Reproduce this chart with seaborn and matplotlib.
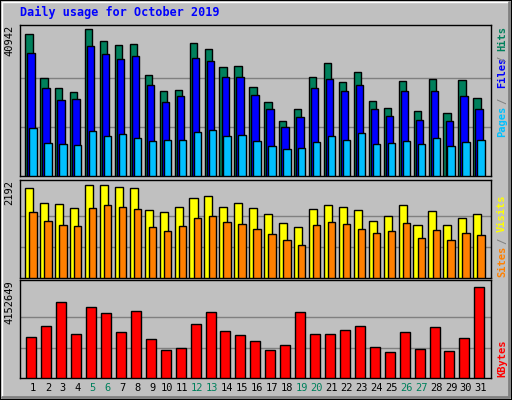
import matplotlib
matplotlib.use("Agg")
import matplotlib.pyplot as plt
import seaborn as sns
import numpy as np
import pandas as pd
from matplotlib.patches import Rectangle

days = list(range(1, 32))
hits = [39546, 27264, 24472, 23356, 40942, 37592, 36476, 36755, 28101, 23635, 23914, 37034, 35359, 30334, 30613, 24751,
        20564, 15260, 18610, 27543, 31451, 26147, 28939, 20843, 18889, 26426, 18052, 26985, 17493, 26705, 21681]
files = [34242, 24472, 21122, 21402, 36196, 33963, 32568, 33405, 25310, 20564, 22239, 32847, 32009, 27543, 27543, 22518,
         18610, 13585, 16377, 24472, 26985, 23635, 25310, 18610, 16656, 23635, 15539, 23635, 15260, 22239, 18610]
pages = [13306, 9119, 8840, 8561, 12469, 11073, 11631, 10515, 9677, 9956, 9956, 12190, 12748, 11073, 11352, 9677,
         8281, 7444, 7723, 9398, 11073, 9956, 11910, 8840, 9119, 9677, 8840, 10515, 8281, 9398, 9956]
visits = [2120, 1763, 1739, 1644, 2192, 2192, 2144, 2120, 1596, 1548, 1667, 1882, 1929, 1667, 1763, 1644,
          1501, 1286, 1191, 1620, 1715, 1667, 1596, 1334, 1453, 1715, 1239, 1572, 1239, 1405, 1501]
sites = [1548, 1334, 1239, 1215, 1644, 1715, 1667, 1620, 1191, 1120, 1215, 1405, 1453, 1310, 1262, 1167,
         1048, 905, 786, 1239, 1310, 1262, 1167, 1072, 1120, 1286, 953, 1143, 905, 1072, 1024]
kbytes = [1879220, 2379335, 3470495, 2015615, 3243170, 2970380, 2106545, 3061310, 1788290, 1288175, 1379105, 2470265,
          3015845, 2152010, 1970150, 1697360, 1288175, 1515500, 3015845, 2015615, 2015615, 2197475, 2379335, 1424570,
          1197245, 2106545, 1333640, 2333870, 1242710, 1833755, 4152649]
weekends = [5, 6, 12, 13, 19, 20, 26, 27]
title = "Daily usage for October 2019"

sns.set_style("white")
plt.rcParams['font.family'] = ['DejaVu Sans Mono']

W, H = 512, 400
fig = plt.figure(figsize=(W/100, H/100), dpi=100, facecolor="#C0C0C0")
fig.patches.append(Rectangle((0, 0), 1, 1, transform=fig.transFigure, fill=False, ec="black", lw=1.5))
fig.add_artist(plt.Line2D([2/W, 2/W, 1-3/W], [3/H, 1-2/H, 1-2/H], transform=fig.transFigure, color="white", lw=1))
fig.add_artist(plt.Line2D([2/W, 1-3/W, 1-3/W], [3/H, 3/H, 1-2/H], transform=fig.transFigure, color="#808080", lw=2))

def mkax(top, bottom):
    l, r = 20, 491
    return fig.add_axes([l/W, 1-bottom/H, (r-l)/W, (bottom-top)/H])

GREEN = "#00805C"
def draw(ax, series, ymax, label_val):
    ax.set_facecolor("#C0C0C0")
    for vals, color, off, w in series:
        df = pd.DataFrame({"x": np.array(days) + off, "y": vals})
        sns.barplot(data=df, x="x", y="y", native_scale=True, width=w, color=color,
                    edgecolor="black", linewidth=1, saturation=1, ax=ax, zorder=3)
    ax.set_xlim(0.13, 31.67)
    ax.set_ylim(0, ymax)
    for f in (1/3, 2/3):
        ax.axhline(label_val*f, color="#808080", lw=1, zorder=1)
    ax.set_xticks([]); ax.set_yticks([])
    ax.set_xlabel(""); ax.set_ylabel("")
    for s in ax.spines.values():
        s.set_color("black"); s.set_linewidth(1)
    ax.text(-0.012, 1.0, str(label_val), transform=ax.transAxes, rotation=90, ha="right", va="top",
            fontsize=7.5, color="black")

ax1 = mkax(25, 176)
draw(ax1, [(hits, GREEN, -0.27, 0.49), (files, "#0000FF", -0.13, 0.49), (pages, "#00C0FF", 0.0, 0.49)],
     42142, 40942)
ax2 = mkax(180, 278)
draw(ax2, [(visits, "#FFFF00", -0.25, 0.54), (sites, "#FF8000", 0.0, 0.49)], 2311, 2192)
ax3 = mkax(280, 378)
draw(ax3, [(kbytes, "#FF0000", -0.11, 0.67)], 4457000, 4152649)

def rlabel(ybot, txt, c):
    fig.text(497/W, 1-ybot/H, txt, rotation=90, ha="left", va="bottom", fontsize=7.5, color=c, fontweight="bold")
rlabel(137, "Pages", "#00C0FF"); rlabel(104, "/", "#808080"); rlabel(88, "Files", "#0000FF")
rlabel(62, "/", "#808080"); rlabel(51, "Hits", GREEN)
rlabel(277, "Sites", "#FF8000"); rlabel(244, "/", "#808080"); rlabel(232, "Visits", "#FFFF00")
rlabel(377, "KBytes", "#FF0000")

for d in days:
    ax3.text(d, -0.1, str(d), transform=ax3.get_xaxis_transform(), ha="center", va="center",
             fontsize=7.5, color=GREEN if d in weekends else "black")

fig.text(20/W, 1-12/H, title, ha="left", va="center", fontsize=8.5, fontweight="bold", color="#0000FF")
fig.savefig("out.png", dpi=100, facecolor="#C0C0C0")
